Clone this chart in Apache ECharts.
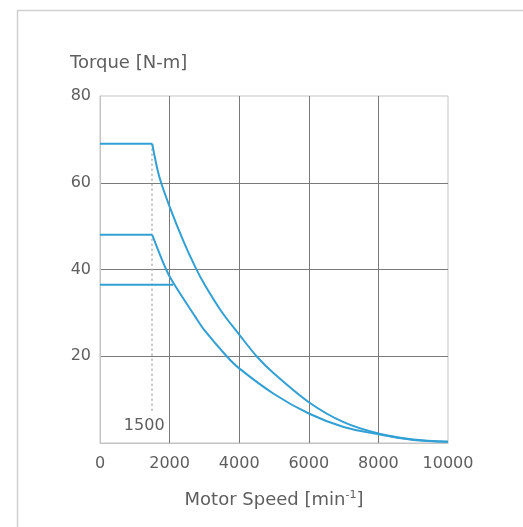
<!DOCTYPE html>
<html><head><meta charset="utf-8">
<script src="https://cdn.jsdelivr.net/npm/echarts@6/dist/echarts.min.js"></script>
<style>html,body{margin:0;padding:0;background:#fff}#c{width:523px;height:527px}</style>
</head><body><div id="c"></div>
<script>
const xTicks = [0, 2000, 4000, 6000, 8000, 10000];
const yTicks = [0, 20, 40, 60, 80];
const upperFlat = [[0, 69], [1500, 69]];
const upperCurve = [[1500, 69], [1700, 61.5], [2000, 54.5], [2400, 46.5], [2760, 40.2], [3000, 36.6], [3500, 30.2], [4000, 25], [4500, 20], [5000, 16], [6000, 9.4], [7000, 4.8], [8000, 2.2], [9000, 0.8], [10000, 0.3]];
const middleFlat = [[0, 48], [1500, 48]];
const middleCurve = [[1500, 48], [1900, 40], [2100, 37], [2730, 29.2], [3000, 26], [3640, 20], [4000, 17.2], [5000, 11.3], [6000, 6.8], [7000, 3.7], [8000, 2], [9000, 0.7], [10000, 0.3]];
const lowerFlat = [[0, 36.5], [2100, 36.5]];
const baseSpeed = 1500;
const baseLineTop = 69;
const baseLineBottom = 7.4;
const baseLabel = '1500';

const blue = '#33a0d4';
const txt = '#5e5e5e';
const font = 'DejaVu Sans';
function lineSeries(data, smooth) {
  return { type: 'line', data: data, showSymbol: false, symbol: 'none', smooth: smooth ? 0.3 : false,
    lineStyle: { color: blue, width: 2 }, z: 5, animation: false };
}
const series = [
  lineSeries(upperFlat, false),
  lineSeries(upperCurve, true),
  lineSeries(middleFlat, false),
  lineSeries(middleCurve, true),
  lineSeries(lowerFlat, false)
];
series[0].markLine = {
  silent: true, symbol: 'none', animation: false,
  lineStyle: { type: [2, 3], color: '#b0b0b0', width: 1.5 },
  label: { show: true, position: 'end', formatter: baseLabel, color: txt, fontSize: 16, fontFamily: font, distance: 7, offset: [-8, 0] },
  data: [[{ coord: [baseSpeed, baseLineTop] }, { coord: [baseSpeed, baseLineBottom] }]]
};
const chart = echarts.init(document.getElementById('c'), null, { renderer: 'canvas' });
chart.setOption({
  animation: false,
  backgroundColor: '#fff',
  graphic: [{ type: 'rect', left: 15, top: 8, shape: { width: 600, height: 600 }, style: { fill: 'none', stroke: '#cfcfcf', lineWidth: 1.5 }, silent: true }],
  grid: { left: 100, right: 75, top: 96, bottom: 84, containLabel: false, outerBoundsMode: 'none', show: true, borderColor: '#c4c4c4', borderWidth: 1 },
  xAxis: {
    type: 'value', min: xTicks[0], max: xTicks[xTicks.length - 1], interval: xTicks[1] - xTicks[0],
    name: 'Motor Speed [min{sup|-1}]', nameLocation: 'middle', nameGap: 47,
    nameTextStyle: { color: txt, fontSize: 18, fontFamily: font, rich: { sup: { fontSize: 11, color: txt, fontFamily: font, verticalAlign: 'top', padding: [0, 0, 10, 0] } } },
    axisLine: { show: true, lineStyle: { color: '#c4c4c4', width: 1 } },
    axisTick: { show: false },
    axisLabel: { color: txt, fontSize: 16, fontFamily: font, margin: 13, formatter: v => String(v) },
    splitLine: { show: true, showMinLine: false, showMaxLine: false, lineStyle: { color: '#7a7a7a', width: 1 } }
  },
  yAxis: {
    type: 'value', min: yTicks[0], max: yTicks[yTicks.length - 1], interval: yTicks[1] - yTicks[0],
    name: 'Torque [N-m]', nameLocation: 'end', nameGap: 24,
    nameTextStyle: { color: txt, fontSize: 18, fontFamily: font, align: 'left', padding: [0, 0, 0, -30] },
    axisLine: { show: true, lineStyle: { color: '#c4c4c4', width: 1 } },
    axisTick: { show: false },
    axisLabel: { color: txt, fontSize: 16, fontFamily: font, margin: 9, formatter: v => v === 0 ? '' : String(v) },
    splitLine: { show: true, showMinLine: false, showMaxLine: false, lineStyle: { color: '#7a7a7a', width: 1 } }
  },
  series: series
});
</script></body></html>
